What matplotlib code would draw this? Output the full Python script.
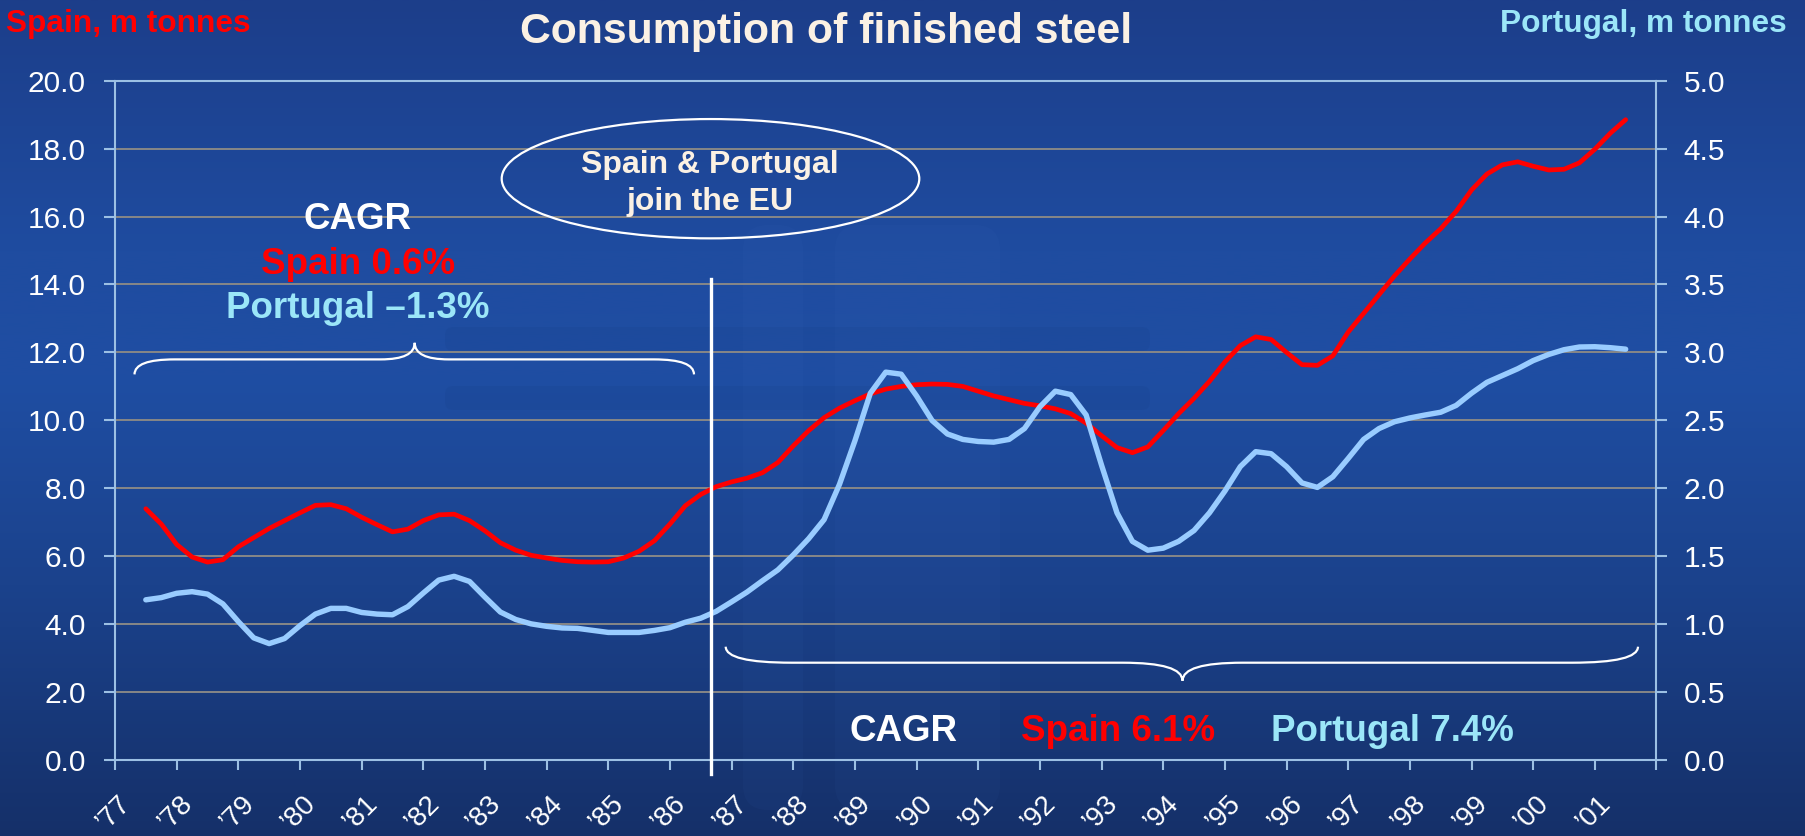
import matplotlib
matplotlib.use('Agg')
import matplotlib.pyplot as plt
import numpy as np
from matplotlib.path import Path
from matplotlib.patches import PathPatch, Ellipse, FancyBboxPatch
from matplotlib.transforms import Affine2D, ScaledTranslation, blended_transform_factory

plt.rcParams['font.family'] = ['Liberation Sans', 'DejaVu Sans']

# quarterly readings, 1977 to 2001
quarters = np.arange(1977, 2001.01, 0.25)
spain = [7.40, 6.95, 6.35, 5.98, 5.83, 5.90, 6.28, 6.55, 6.82, 7.05, 7.28, 7.50,
         7.52, 7.40, 7.15, 6.93, 6.72, 6.80, 7.05, 7.22, 7.24, 7.05, 6.75, 6.40,
         6.18, 6.03, 5.95, 5.88, 5.84, 5.83, 5.84, 5.95, 6.15, 6.46, 6.95, 7.49,
         7.82, 8.05, 8.19, 8.30, 8.46, 8.76, 9.25, 9.70, 10.08, 10.36, 10.58, 10.78,
         10.92, 11.00, 11.05, 11.07, 11.06, 11.00, 10.86, 10.72, 10.61, 10.50, 10.43, 10.34,
         10.20, 9.92, 9.55, 9.20, 9.05, 9.22, 9.70, 10.20, 10.65, 11.15, 11.72, 12.20,
         12.46, 12.38, 12.00, 11.64, 11.62, 11.90, 12.60, 13.15, 13.70, 14.25, 14.75, 15.22,
         15.64, 16.15, 16.78, 17.25, 17.52, 17.61, 17.48, 17.37, 17.39, 17.58, 17.98, 18.45,
         18.85]
portugal = [1.180, 1.196, 1.228, 1.240, 1.222, 1.150, 1.020, 0.900, 0.858, 0.895, 0.990, 1.075,
            1.117, 1.117, 1.087, 1.075, 1.070, 1.130, 1.230, 1.325, 1.353, 1.315, 1.200, 1.090,
            1.035, 1.003, 0.985, 0.973, 0.970, 0.955, 0.940, 0.940, 0.940, 0.955, 0.975, 1.015,
            1.045, 1.095, 1.165, 1.237, 1.320, 1.400, 1.510, 1.630, 1.770, 2.030, 2.350, 2.700,
            2.855, 2.840, 2.680, 2.500, 2.400, 2.360, 2.345, 2.340, 2.360, 2.440, 2.600, 2.715,
            2.690, 2.540, 2.170, 1.820, 1.610, 1.545, 1.560, 1.610, 1.690, 1.820, 1.980, 2.160,
            2.270, 2.255, 2.160, 2.040, 2.007, 2.085, 2.220, 2.360, 2.440, 2.490, 2.518, 2.540,
            2.560, 2.610, 2.700, 2.780, 2.830, 2.880, 2.940, 2.985, 3.020, 3.040, 3.042, 3.035,
            3.024]
years = np.arange(1977, 2002)
year_labels = ['\u2019%02d' % (y % 100) for y in years]
spain_ticks = np.arange(0, 20.1, 2)
portugal_ticks = np.arange(0, 5.01, 0.5)

W, H = 1806, 836
red = '#ff0000'
blue_line = '#99ccff'
blue_text = '#9be6f8'
cream = '#fbf1e4'
spine_c = '#9cc0e4'
grid_c = '#878787'

fig = plt.figure(figsize=(W / 100, H / 100), dpi=100)

# background gradient
bg = fig.add_axes([0, 0, 1, 1], zorder=-10)
stops_y = [0.0, 0.3, 0.45, 0.7, 1.0]
stops_c = np.array([[28, 62, 138], [31, 76, 160], [31, 78, 163], [27, 66, 140], [21, 48, 105]]) / 255
yy = np.linspace(0, 1, 400)
grad = np.stack([np.interp(yy, stops_y, stops_c[:, k]) for k in range(3)], axis=1)
bg.imshow(grad[:, None, :], aspect='auto', extent=[0, 1, 0, 1], origin='upper')
bg.set_xlim(0, 1)
bg.set_ylim(0, 1)
bg.axis('off')

# image pixel coords (y down) -> figure
px = Affine2D().scale(1 / W, -1 / H).translate(0, 1) + fig.transFigure

# faint logo watermark
for (x0, y0, w, h) in [(743, 225, 60, 585), (835, 225, 165, 585)]:
    fig.add_artist(FancyBboxPatch((x0, y0), w, h, boxstyle='round,pad=0,rounding_size=25',
                                  transform=px, facecolor='#4a7ad0', edgecolor='none',
                                  alpha=0.05, zorder=-5))
for (x0, y0, w, h) in [(445, 327, 705, 24), (445, 386, 705, 24)]:
    fig.add_artist(FancyBboxPatch((x0, y0), w, h, boxstyle='round,pad=0,rounding_size=8',
                                  transform=px, facecolor='#0f2a66', edgecolor='none',
                                  alpha=0.07, zorder=-5))

left, right, top, bottom = 115, 1656.5, 80.6, 760.2
ax = fig.add_axes([left / W, 1 - bottom / H, (right - left) / W, (bottom - top) / H])
ax.patch.set_alpha(0)
ax2 = ax.twinx()

ax.plot(quarters, spain, color=red, lw=3.4, solid_capstyle='round', solid_joinstyle='round', zorder=3)
ax2.plot(quarters, portugal, color=blue_line, lw=3.9, solid_capstyle='round', solid_joinstyle='round', zorder=3)

ax.set_xlim(1976.5, 2001.5)
ax.set_ylim(0, 20)
ax2.set_ylim(0, 5)
ax.set_yticks(spain_ticks)
ax.set_yticklabels(['%.1f' % v for v in spain_ticks])
ax2.set_yticks(portugal_ticks)
ax2.set_yticklabels(['%.1f' % v for v in portugal_ticks])
ax.yaxis.grid(True, color=grid_c, lw=1.4)
ax.set_axisbelow(True)

ax.set_xticks(np.arange(1976.5, 2002, 1))
ax.set_xticklabels([])
ax.tick_params(axis='x', direction='out', length=7, width=1.5, color=spine_c)
ax.tick_params(axis='y', direction='out', length=8, width=1.5, color=spine_c,
               pad=13, labelsize=21.5, labelcolor='white')
ax2.tick_params(axis='y', direction='out', length=8, width=1.5, color=spine_c,
                pad=11.5, labelsize=21.5, labelcolor='white')
for s in ['left', 'bottom', 'top']:
    ax.spines[s].set_color(spine_c)
    ax.spines[s].set_linewidth(1.5)
ax.spines['right'].set_visible(False)
for s in ['left', 'bottom', 'top']:
    ax2.spines[s].set_visible(False)
ax2.spines['right'].set_color(spine_c)
ax2.spines['right'].set_linewidth(1.5)

# rotated year labels
lab_tr = blended_transform_factory(ax.transData, ax.transAxes) + \
    ScaledTranslation(-0.19, -0.40, fig.dpi_scale_trans)
for y, lab in zip(years, year_labels):
    ax.text(y, 0, lab, transform=lab_tr, rotation=45, rotation_mode='anchor',
            ha='right', va='center', color='white', fontsize=20, clip_on=False)

# titles
fig.text(826.5 / W, 1 - 43 / H, 'Consumption of finished steel', color=cream,
         fontsize=30.8, fontweight='bold', ha='center', va='baseline')
fig.text(6 / W, 1 - 31.7 / H, 'Spain, m tonnes', color=red,
         fontsize=22.8, fontweight='bold', ha='left', va='baseline')
fig.text(1787 / W, 1 - 31.7 / H, 'Portugal, m tonnes', color=blue_text,
         fontsize=22.8, fontweight='bold', ha='right', va='baseline')

# EU join annotation
fig.add_artist(Ellipse((710.5, 178.7), 417.6, 119.3, transform=px, fill=False,
                       edgecolor='white', lw=1.6))
fig.text(710 / W, 1 - 172.7 / H, 'Spain & Portugal', color=cream, fontsize=23,
         fontweight='bold', ha='center', va='baseline')
fig.text(710 / W, 1 - 210 / H, 'join the EU', color=cream, fontsize=23,
         fontweight='bold', ha='center', va='baseline')
fig.add_artist(plt.Line2D([710.6, 710.6], [279, 774], transform=px, color='white', lw=2.4))


def brace(x0, x1, xt, yb, ye, yt, hook, tipw):
    verts = [(x0, ye), (x0, yb), (x0 + hook, yb), (xt - tipw, yb),
             (xt, yb), (xt, yt), (xt, yb), (xt + tipw, yb),
             (x1 - hook, yb), (x1, yb), (x1, ye)]
    codes = [Path.MOVETO, Path.CURVE3, Path.CURVE3, Path.LINETO,
             Path.CURVE3, Path.CURVE3, Path.CURVE3, Path.CURVE3,
             Path.LINETO, Path.CURVE3, Path.CURVE3]
    fig.add_artist(PathPatch(Path(verts, codes), transform=px, fill=False,
                             edgecolor='white', lw=1.6))


brace(134.5, 694, 414.7, 359.4, 374.4, 342.8, 40, 34)
brace(725.7, 1638, 1182.5, 662.7, 646.7, 680.7, 66, 60)

# CAGR texts
fig.text(358 / W, 1 - 229.2 / H, 'CAGR', color='white', fontsize=26.5,
         fontweight='bold', ha='center', va='baseline')
fig.text(358 / W, 1 - 273.7 / H, 'Spain 0.6%', color=red, fontsize=26.5,
         fontweight='bold', ha='center', va='baseline')
fig.text(358 / W, 1 - 318 / H, 'Portugal \u20131.3%', color=blue_text, fontsize=26.5,
         fontweight='bold', ha='center', va='baseline')
fig.text(850 / W, 1 - 741 / H, 'CAGR', color='white', fontsize=26.5,
         fontweight='bold', ha='left', va='baseline')
fig.text(1021.5 / W, 1 - 741 / H, 'Spain 6.1%', color=red, fontsize=26.5,
         fontweight='bold', ha='left', va='baseline')
fig.text(1270.7 / W, 1 - 741 / H, 'Portugal 7.4%', color=blue_text, fontsize=26.5,
         fontweight='bold', ha='left', va='baseline')

fig.savefig('out.png', dpi=100)
